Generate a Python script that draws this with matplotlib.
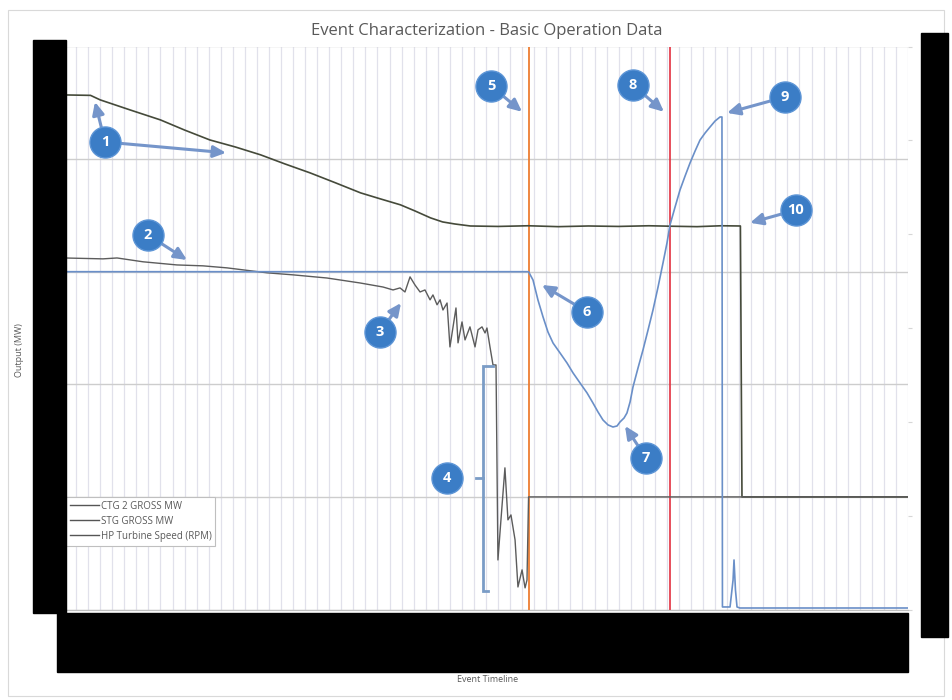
import numpy as np
import matplotlib
matplotlib.use("Agg")
import matplotlib.pyplot as plt
from matplotlib.patches import Rectangle
from matplotlib.lines import Line2D

plt.rcParams['font.family'] = ['Open Sans', 'DejaVu Sans']

# ---------------- data ----------------
title = "Event Characterization - Basic Operation Data"
x_label = "Event Timeline"
y_label = "Output (MW)"
series_names = ["CTG 2 GROSS MW", "STG GROSS MW", "HP Turbine Speed (RPM)"]

# CTG 2 gross output (MW)
ctg_t = [0, 2.2, 3.0, 5.5, 8.0, 10.0, 12.1, 14.2, 16.3, 18.3, 20.4, 22.5, 24.6,
         26.2, 27.9, 29.1, 30.4, 31.4, 32.4, 33.7, 36.0, 38.5, 41.0, 43.5, 46.0,
         48.5, 50.3, 52.5, 54.5, 56.1, 56.23, 70]
ctg_mw = [178.5, 178.3, 176.3, 171.8, 167.4, 162.9, 158.5, 155.4, 151.9, 147.9, 143.9, 139.5, 135.0,
          132.4, 129.7, 127.0, 123.9, 122.1, 121.2, 120.3, 120.1, 120.4, 120.0, 120.3, 120.1,
          120.4, 120.2, 120.0, 120.4, 120.3, 0, 0]

# STG gross output (MW)
stg_t = [0, 3.23, 4.40, 6.55, 9.37, 11.53, 13.52, 16.84, 18.99, 21.81, 24.55, 26.46,
         27.29, 27.87, 28.28, 28.70, 29.11, 29.53, 29.94, 30.36, 30.60, 30.94, 31.19,
         31.43, 31.77, 32.01, 32.51, 32.68, 33.01, 33.26, 33.67, 34.09, 34.34, 34.67,
         34.92, 35.08, 35.33, 35.58, 35.83, 35.99, 36.24, 36.57, 36.82, 37.07, 37.41,
         37.65, 37.99, 38.24, 38.40, 38.53, 70]
stg_mw = [106.1, 105.7, 106.1, 104.4, 103.0, 102.6, 101.7, 99.5, 98.6, 97.2, 95.0, 93.2,
          91.9, 92.8, 91.0, 97.7, 94.1, 91.0, 91.9, 87.5, 89.7, 85.3, 87.5,
          83.0, 86.1, 66.6, 83.9, 68.4, 77.7, 69.7, 75.5, 66.6, 74.2, 75.5,
          72.8, 75.0, 66.6, 58.6, 58.6, -28.0, -10.2, 12.9, -10.2, -8.0, -19.1,
          -40.0, -32.4, -40.4, -36.9, 0, 0]

# HP turbine speed (RPM)
rpm_t = [0, 38.53, 38.90, 39.31, 39.73, 40.14, 40.56, 41.14, 41.72, 42.22, 42.80,
         43.38, 43.87, 44.29, 44.70, 45.12, 45.53, 45.87, 46.11, 46.45, 46.69, 46.95,
         47.19, 47.61, 48.02, 48.44, 48.85, 49.27, 49.68, 50.01, 50.26, 50.68, 51.09,
         51.51, 51.92, 52.34, 52.75, 53.17, 53.58, 54.00, 54.41, 54.57, 54.61, 55.24,
         55.49, 55.57, 55.69, 55.82, 56.06, 70]
rpm = [3600, 3600, 3511, 3298, 3118, 2957, 2840, 2734, 2627, 2521, 2414,
       2308, 2201, 2105, 2020, 1967, 1945, 1956, 1998, 2041, 2094, 2212,
       2371, 2575, 2766, 2979, 3192, 3437, 3693, 3906, 4098, 4289, 4471,
       4619, 4758, 4886, 5003, 5078, 5142, 5206, 5249, 5249, 27, 27,
       314, 528, 208, 27, 16, 16]

# event markers on the timeline
trip_time = 38.53
breaker_time = 50.26

# numbered call-outs: label, circle centre (t, MW), arrow targets (t, MW)
callouts = [
    ("1", (3.40, 157.6), [(2.57, 175.4), (13.44, 152.8)]),
    ("2", (6.97, 116.3), [(10.20, 105.2)]),
    ("3", (26.21, 73.3), [(27.95, 86.1)]),
    ("4", (31.77, 8.4), []),
    ("5", (35.41, 182.5), [(37.99, 171.0)]),
    ("6", (43.38, 82.2), [(39.64, 94.1)]),
    ("7", (48.27, 17.3), [(46.53, 31.5)]),
    ("8", (47.19, 182.9), [(49.76, 171.0)]),
    ("9", (59.80, 177.6), [(54.99, 170.5)]),
    ("10", (60.71, 127.4), [(56.90, 121.7)]),
]
# bracket marking the STG collapse (t, MW)
bracket_t = 34.71
bracket_top, bracket_mid, bracket_bot = 58.2, 8.4, -41.7

# ---------------- figure ----------------
W, H = 952, 700
fig = plt.figure(figsize=(W / 100, H / 100), dpi=100)
fig.patch.set_facecolor("white")

L, R, T, B = 64, 908, 46.5, 609.5
ax = fig.add_axes([L / W, 1 - B / H, (R - L) / W, (B - T) / H])
ax2 = ax.twinx()

ax.set_xlim(0, 70)
ax.set_ylim(-50, 200)
ax2.set_ylim(0, 6000)

ax.set_xticks(np.arange(0, 71, 1))
ax.set_yticks([-50, 0, 50, 100, 150, 200])
ax.grid(axis="x", color="#e1e1eb", lw=0.9)
ax.grid(axis="y", color="#cdcdcd", lw=1.0)
ax.set_axisbelow(True)
ax.tick_params(axis="both", length=0, labelleft=False, labelbottom=False)
ax2.set_yticks(np.arange(0, 6001, 1000))
ax2.tick_params(axis="y", length=3, colors="#d6d6d6", labelright=False)
for a in (ax, ax2):
    for side in ("top", "left", "right"):
        a.spines[side].set_visible(False)
    a.spines["bottom"].set_color("#bfbfbf")

# event lines
ax.axvline(trip_time, color="#ed7d31", lw=1.3, zorder=3)
ax.axvline(breaker_time, color="#e3303f", lw=1.2, zorder=3)

# series
ln_ctg, = ax.plot(ctg_t, ctg_mw, color="#454a3a", lw=1.2, zorder=4)
ln_stg, = ax.plot(stg_t, stg_mw, color="#5c5c5c", lw=1.0, zorder=4)
ln_rpm, = ax2.plot(rpm_t, rpm, color="#6a8fc8", lw=1.2, zorder=4)

# bracket
bc = "#7a9cc6"
ax.plot([35.6, bracket_t, bracket_t, 35.2], [bracket_top, bracket_top, bracket_bot, bracket_bot],
        color=bc, lw=2, zorder=5, solid_joinstyle="miter")
ax.plot([34.2, bracket_t], [bracket_mid, bracket_mid], color=bc, lw=2, zorder=5)

# call-outs
circle_c = "#3b7dc6"
arrow_c = "#7595ca"
for label, (cx, cy), targets in callouts:
    for (tx, ty) in targets:
        ax2.annotate("", xy=(tx, ty), xycoords=ax.transData,
                     xytext=(cx, cy), textcoords=ax.transData,
                     arrowprops=dict(arrowstyle="-|>,head_length=0.75,head_width=0.35",
                                     color=arrow_c, lw=2.2, shrinkA=11, shrinkB=0),
                     zorder=6)
    ax2.scatter([cx], [cy], s=500, color=circle_c, transform=ax.transData,
                zorder=7, edgecolors="#5d95d6", linewidths=1.0)
    ax2.text(cx, cy, label, transform=ax.transData, ha="center", va="center",
             color="white", fontsize=10.5, fontweight="bold", zorder=8)
ax2.set_ylim(0, 6000)

# legend
handles = [Line2D([], [], color="#555555", lw=1.0),
           Line2D([], [], color="#555555", lw=1.0),
           Line2D([], [], color="#555555", lw=1.0)]
leg = ax2.legend(handles, series_names, loc="upper left",
                 bbox_to_anchor=((66 - L) / (R - L), (B - 497) / (B - T)),
                 fontsize=7, frameon=True, fancybox=False, framealpha=1,
                 edgecolor="#bfbfbf", handlelength=3.0, handletextpad=0.15,
                 labelspacing=0.4, borderpad=0.4, borderaxespad=0,
                 labelcolor="#595959")
leg.get_frame().set_linewidth(0.8)
leg.set_zorder(9)

# titles
fig.text(487 / W, 1 - 31 / H, title, ha="center", va="center",
         fontsize=12, color="#595959")
fig.text(488 / W, 1 - 680 / H, x_label, ha="center", va="center",
         fontsize=6.5, color="#595959")
fig.text(20 / W, 1 - 350 / H, y_label, ha="center", va="center",
         rotation=90, fontsize=6.5, color="#595959")

# outer chart frame
fig.add_artist(Rectangle((8 / W, 1 - 696 / H), (944 - 8) / W, (696 - 10) / H,
                         transform=fig.transFigure, fill=False,
                         ec="#d9d9d9", lw=0.8, zorder=9))

# masked axis label areas
def block(x0, y0, x1, y1):
    fig.add_artist(Rectangle((x0 / W, 1 - y1 / H), (x1 - x0) / W, (y1 - y0) / H,
                             transform=fig.transFigure, color="black", zorder=10))

block(33, 40, 66, 613)
block(921, 33, 948, 637)
block(57, 613, 908, 672)

fig.savefig("out.png", dpi=100)
